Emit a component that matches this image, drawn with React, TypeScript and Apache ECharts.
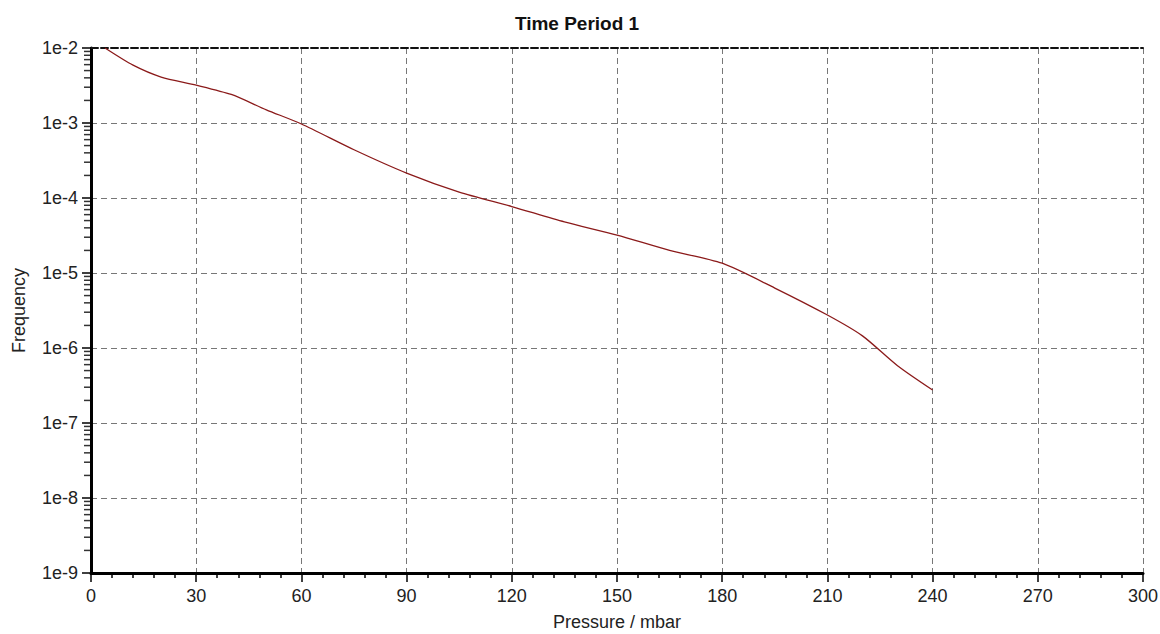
import React, { useEffect, useRef } from "react";
import * as echarts from "echarts";

const pressure = [4, 12, 20, 30, 40, 50, 60, 75, 90, 105, 120, 135, 150, 165, 180, 195, 210, 220, 230, 240];
const frequency = [1e-2, 5.9e-3, 4.1e-3, 3.2e-3, 2.4e-3, 1.5e-3, 9.7e-4, 4.4e-4, 2.15e-4, 1.2e-4, 7.7e-5, 4.8e-5, 3.2e-5, 2.0e-5, 1.35e-5, 6.3e-6, 2.75e-6, 1.45e-6, 5.8e-7, 2.75e-7];
const decadeExponents = [-9, -8, -7, -6, -5, -4, -3];
const minorMultipliers = [2, 3, 4, 5, 6, 7, 8, 9];

const minorTickValues: number[][] = [];
decadeExponents.forEach((e) => {
  minorMultipliers.forEach((m) => {
    minorTickValues.push([0, m * Math.pow(10, e)]);
  });
});

const FONT = "Liberation Sans, Arial, sans-serif";

export default function App() {
  const ref = useRef<HTMLDivElement>(null);
  useEffect(() => {
    if (!ref.current) return;
    const chart = echarts.init(ref.current, undefined, { renderer: "svg" });
    const gridLine = { show: true, lineStyle: { color: "#777", type: [6, 4], width: 1 } };
    chart.setOption({
      animation: false,
      backgroundColor: "#fff",
      title: {
        text: "Time Period 1",
        left: 572,
        textAlign: "center",
        top: 9,
        textStyle: { fontFamily: FONT, fontSize: 19, fontWeight: "bold", color: "#111" },
      },
      grid: { left: 91, right: 17, top: 48, bottom: 61, containLabel: false, outerBoundsMode: "none" },
      xAxis: [
        {
          type: "value",
          min: 0,
          max: 300,
          interval: 30,
          name: "Pressure / mbar",
          nameLocation: "middle",
          nameGap: 40,
          nameTextStyle: { fontFamily: FONT, fontSize: 18, color: "#222" },
          axisLine: { show: true, lineStyle: { color: "#000", width: 3 } },
          axisTick: { show: true, length: 9, lineStyle: { color: "#000", width: 1.5 } },
          minorTick: { show: true, splitNumber: 5, length: 5, lineStyle: { color: "#000", width: 1.5 } },
          axisLabel: { fontFamily: FONT, fontSize: 18, color: "#222", margin: 14 },
          splitLine: gridLine,
        },
        {
          type: "value",
          min: 0,
          max: 300,
          interval: 30,
          position: "top",
          axisLine: { show: true, lineStyle: { color: "#111", width: 2, type: [7, 3] } },
          axisTick: { show: false },
          axisLabel: { show: false },
          splitLine: { show: false },
        },
      ],
      yAxis: [
        {
          type: "log",
          logBase: 10,
          min: 1e-9,
          max: 1e-2,
          name: "Frequency",
          nameLocation: "middle",
          nameGap: 63,
          nameTextStyle: { fontFamily: FONT, fontSize: 18, color: "#222" },
          axisLine: { show: true, lineStyle: { color: "#000", width: 3 } },
          axisTick: { show: true, length: 9, lineStyle: { color: "#000", width: 1.5 } },
          axisLabel: {
            fontFamily: FONT,
            fontSize: 18,
            color: "#222",
            margin: 13,
            formatter: (v: number) => "1e" + Math.round(Math.log10(v)),
          },
          splitLine: gridLine,
        },
        {
          type: "log",
          logBase: 10,
          min: 1e-9,
          max: 1e-2,
          position: "right",
          axisLine: { show: true, lineStyle: { color: "#000", width: 2 } },
          axisTick: { show: false },
          axisLabel: { show: false },
          splitLine: { show: false },
        },
      ],
      series: [
        {
          type: "line",
          data: pressure.map((p, i) => [p, frequency[i]]),
          smooth: 0.25,
          showSymbol: false,
          lineStyle: { color: "#8b1a1a", width: 1.3 },
        },
        {
          type: "scatter",
          data: minorTickValues,
          symbol: "rect",
          symbolSize: [6, 1.5],
          symbolOffset: [-4, 0],
          clip: false,
          silent: true,
          itemStyle: { color: "#000" },
          z: 5,
        },
      ],
    });
    return () => chart.dispose();
  }, []);
  return <div ref={ref} style={{ position: "fixed", left: 0, top: 0, width: 1160, height: 634 }} />;
}
